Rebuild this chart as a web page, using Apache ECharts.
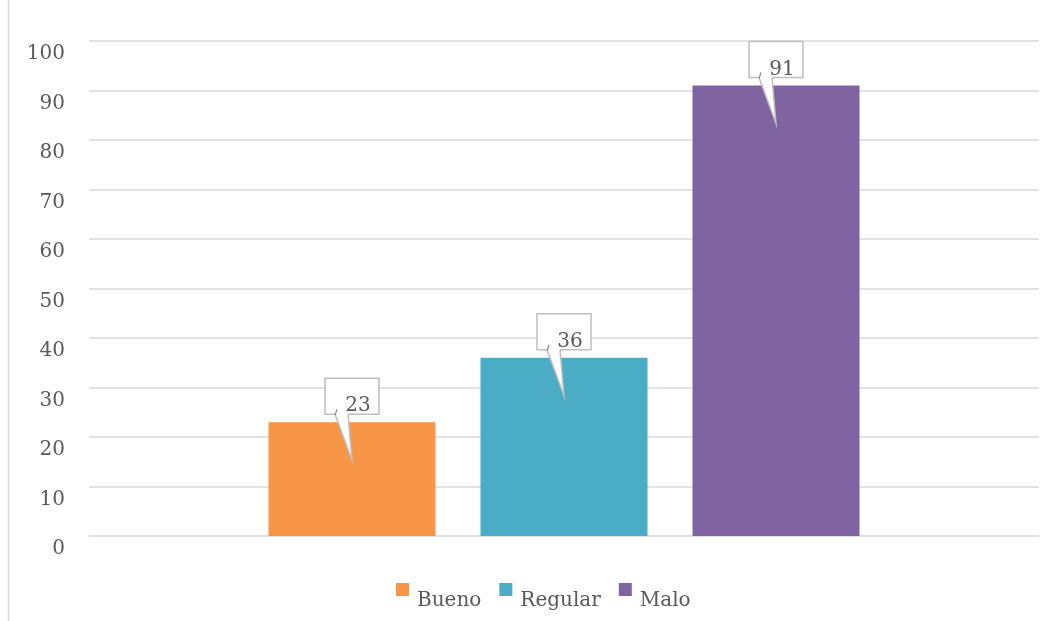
<!DOCTYPE html>
<html><head><meta charset="utf-8">
<script src="https://cdn.jsdelivr.net/npm/echarts@6/dist/echarts.min.js"></script>
<style>html,body{margin:0;padding:0;background:#fff}#c{width:1056px;height:621px}</style>
</head><body><div id="c"></div>
<script>
const categories = [''];
const seriesNames = ['Bueno', 'Regular', 'Malo'];
const seriesValues = [23, 36, 91];
const seriesColors = ['#F79646', '#4BACC6', '#8064A2'];
const yTicks = [0, 10, 20, 30, 40, 50, 60, 70, 80, 90, 100];

const FONT = 'DejaVu Serif';
const TXT = '#595959';
const BAR_W = 167, BAR_GAP = 45;

const chart = echarts.init(document.getElementById('c'));
const barSeries = seriesNames.map((n, i) => ({
  name: n, type: 'bar', data: [seriesValues[i]], barWidth: BAR_W, barGap: (BAR_GAP / BAR_W * 100) + '%',
  itemStyle: { color: seriesColors[i] }, z: 2
}));
const calloutData = seriesValues.map((v, i) => [0, v, i]);
chart.setOption({
  animation: false,
  color: seriesColors,
  grid: { left: 89, right: 17, top: 41, bottom: 85 },
  legend: {
    data: seriesNames, top: 578, left: 391, icon: 'rect', itemWidth: 13, itemHeight: 13, itemGap: 18,
    formatter: function (name) { return '{t|' + name + '}'; },
    textStyle: { fontFamily: FONT, fontSize: 20, color: TXT,
      rich: { t: { fontFamily: FONT, fontSize: 20, color: TXT, padding: [22, 0, 0, 3] } } }
  },
  xAxis: { type: 'category', data: categories, axisLine: { show: false }, axisTick: { show: false }, axisLabel: { show: false } },
  yAxis: {
    type: 'value', min: yTicks[0], max: yTicks[yTicks.length - 1], interval: 10,
    axisLine: { show: false }, axisTick: { show: false },
    splitLine: { lineStyle: { color: '#d9d9d9', width: 1.5 } },
    axisLabel: { fontFamily: FONT, fontSize: 20, color: TXT, margin: 24, verticalAlign: 'top', lineHeight: 20, padding: [3, 0, 0, 0] }
  },
  graphic: [
    { type: 'line', shape: { x1: 8.5, y1: 0, x2: 8.5, y2: 621 }, style: { stroke: '#d9d9d9', lineWidth: 1.5 } }
  ],
  series: barSeries.concat([{
    type: 'custom', data: calloutData, z: 10, clip: false, silent: true,
    renderItem: function (params, api) {
      const idx = api.value(2), val = api.value(1);
      const p = api.coord([api.value(0), val]);
      const cx = p[0] + (idx - 1) * (BAR_W + BAR_GAP);
      const top = p[1];
      const bb = top - 8;
      return {
        type: 'group', children: [
          { type: 'rect', shape: { x: cx - 27, y: top - 44, width: 54, height: 36 }, style: { fill: '#fff', stroke: '#bfbfbf', lineWidth: 1.5 } },
          { type: 'polygon', shape: { points: [[cx - 17, bb - 1], [cx - 4, bb - 1], [cx, top + 38]] }, style: { fill: '#fff' } },
          { type: 'polyline', shape: { points: [[cx - 17, bb], [cx, top + 38], [cx - 4, bb]] }, style: { fill: 'none', stroke: '#bfbfbf', lineWidth: 1.5 } },
          { type: 'line', shape: { x1: cx - 15, y1: bb - 5, x2: cx - 17, y2: bb + 1 }, style: { stroke: '#888', lineWidth: 1.2 } },
          { type: 'text', style: { text: String(val), x: cx + 6, y: top - 16, align: 'center', verticalAlign: 'middle', fill: TXT, font: '20px "' + FONT + '"' } }
        ]
      };
    }
  }])
});
</script></body></html>
